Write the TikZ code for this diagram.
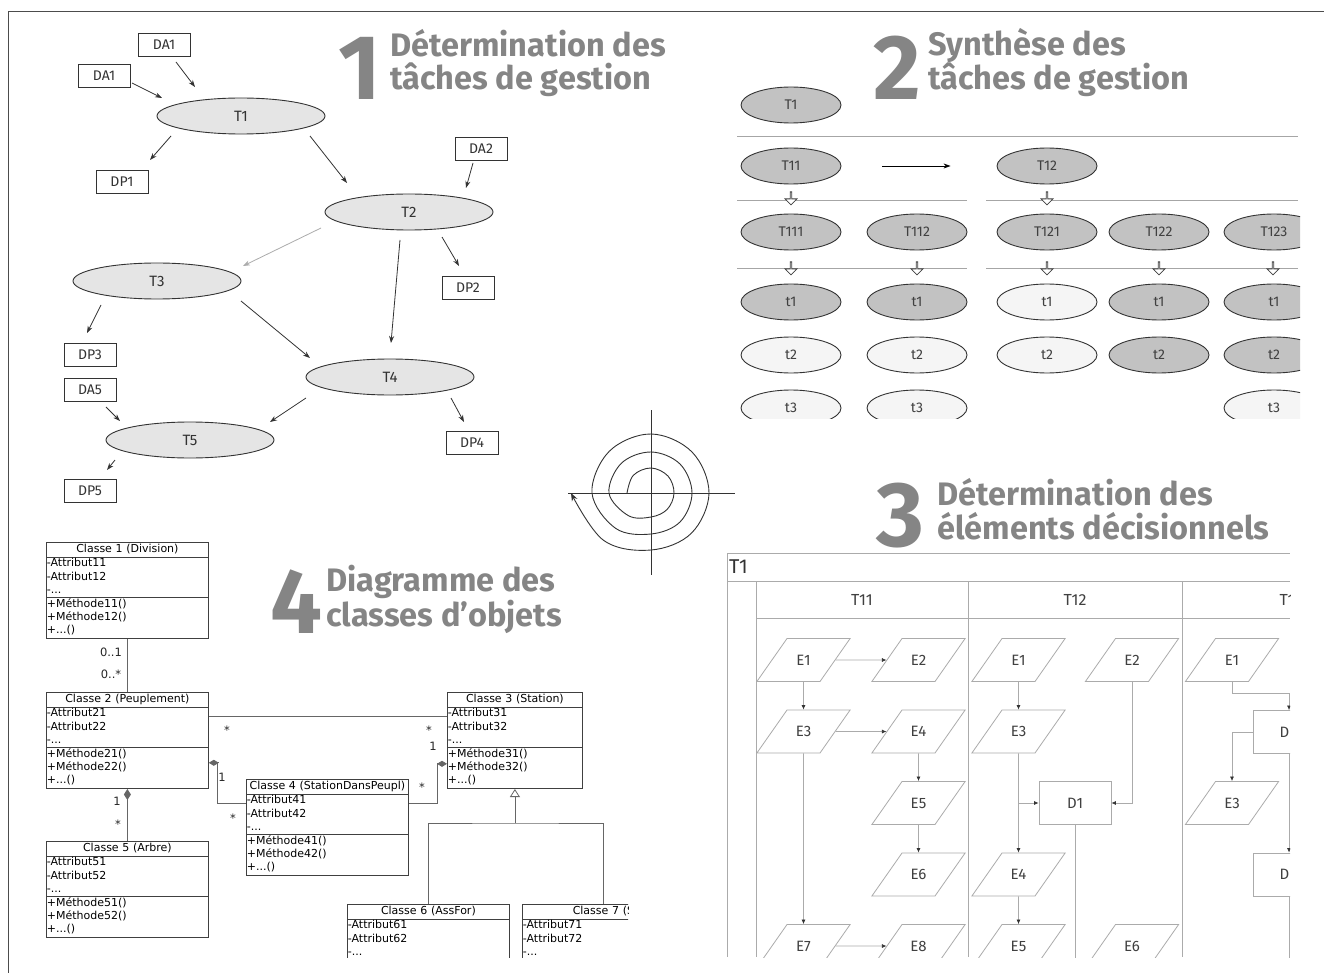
\documentclass[tikz,border=0pt]{standalone}
\usepackage{fontspec}
\setmainfont{Fira Sans}
\newfontfamily\umlfont{DejaVu Sans}
\usetikzlibrary{shapes.geometric,shapes.multipart,shapes.arrows,arrows.meta}
\setlength\parindent{0pt}
\definecolor{titlegray}{HTML}{858585}
\definecolor{lanegray}{HTML}{ABABAB}
\newcommand\ctitle[1]{\strut\hfill#1\hfill\null}

\begin{document}
\begin{tikzpicture}[x=1pt,y=-1pt]

  \tikzset{task/.style={draw=black!80, ellipse, fill=gray!20, line width=0.9pt, minimum width=168pt, minimum height=36pt, inner sep=0pt, text=black!80, font=\fontsize{15}{15}\selectfont},
    databox/.style={draw=black!80, line width=0.8pt, minimum width=52pt, minimum height=23pt, inner sep=0pt, text=black!80, font=\fontsize{14}{14}\selectfont},
    arr/.style={-{Stealth[length=7pt,width=5pt]}, draw=black!80, line width=0.8pt},
    subtask/.style={draw=black!80, ellipse, line width=0.9pt, minimum width=100pt, minimum height=36pt, inner sep=0pt, text=black!75, font=\fontsize{14}{14}\selectfont},
    subdark/.style={subtask, fill=gray!48},
    sublight/.style={subtask, fill=gray!8},
    hollow/.style={draw=black!75, line width=0.8pt, fill=white, single arrow, rotate=-90, minimum height=13pt, minimum width=12pt, single arrow head extend=3pt, inner sep=0pt},
    rule/.style={draw=gray!70, line width=0.8pt},
    bignum/.style={font=\fontsize{92}{92}\selectfont\bfseries, text=titlegray, inner sep=0pt, anchor=base west},
    headline/.style={font=\fontsize{32.5}{33.5}\selectfont\bfseries, text=titlegray, inner sep=0pt, anchor=base west, align=left},
    lane/.style={draw=lanegray, line width=0.8pt},
    flow/.style={draw=lanegray, line width=0.7pt, -{Latex[length=4.5pt,width=4pt,color=black!80]}},
    etape/.style={trapezium, trapezium left angle=55, trapezium right angle=125, draw=lanegray, line width=0.8pt, text width=33pt, align=center, inner xsep=0pt, text height=10.5pt, text depth=0pt, inner ysep=16.25pt, text=black!75, font=\fontsize{15}{15}\selectfont},
    decision/.style={draw=lanegray, line width=0.8pt, minimum width=72pt, minimum height=43pt, inner sep=0pt, text=black!75, font=\fontsize{15}{15}\selectfont},
    umlclass/.style={draw=black!75, line width=0.8pt, rectangle split, rectangle split parts=3, anchor=north west, inner xsep=0.5pt, inner ysep=0.35pt, text=black, font=\umlfont\fontsize{11}{13.1}\selectfont},
    umlline/.style={draw=black!60, line width=0.8pt},
    mult/.style={inner sep=0pt, text=black!85, font=\umlfont\fontsize{11.5}{11.5}\selectfont}}

  \useasboundingbox (0,0) rectangle (1324,973);
  \fill[white] (0,0) rectangle (1324,973);
  \draw[black!70, line width=1pt] (1324,12) -- (8,12) -- (8,973);

%% 1 Determination des taches
  \node[bignum] (n1) at (338,100) {1};
  \node[headline] (h1) at (390,90) {Détermination des\\tâches de gestion};

  \node[task] (t1) at (241,116) {T1};
  \node[task] (t2) at (409,212) {T2};
  \node[task] (t3) at (157,281) {T3};
  \node[task] (t4) at (390,377) {T4};
  \node[task] (t5) at (190,440) {T5};
  \node[databox] (da1a) at (164,45) {DA1};
  \node[databox] (da1b) at (104,76) {DA1};
  \node[databox] (dp1) at (122,182) {DP1};
  \node[databox] (da2) at (481,149) {DA2};
  \node[databox] (dp2) at (468,288) {DP2};
  \node[databox] (dp3) at (90,355) {DP3};
  \node[databox] (da5) at (90,390) {DA5};
  \node[databox] (dp4) at (472,443) {DP4};
  \node[databox] (dp5) at (90,491) {DP5};
%Flows
  \draw[arr] ([shift={(12,17)}]da1a.center) -- ([shift={(-46,-29)}]t1.center);
  \draw[arr] ([shift={(28,7)}]da1b.center) -- ([shift={(-79,-18)}]t1.center);
  \draw[arr] ([shift={(-70,20)}]t1.center) -- ([shift={(28,-22)}]dp1.center);
  \draw[arr] ([shift={(69,20)}]t1.center) -- ([shift={(-62,-29)}]t2.center);
  \draw[arr] ([shift={(-8,14)}]da2.center) -- ([shift={(57,-24)}]t2.center);
  \draw[arr, draw=gray!65] ([shift={(-88,16)}]t2.center) -- ([shift={(86,-15)}]t3.center);
  \draw[arr] ([shift={(-9,28)}]t2.center) -- ([shift={(1,-34)}]t4.center);
  \draw[arr] ([shift={(33,25)}]t2.center) -- ([shift={(-9,-22)}]dp2.center);
  \draw[arr] ([shift={(-56,24)}]t3.center) -- ([shift={(-3,-22)}]dp3.center);
  \draw[arr] ([shift={(84,20)}]t3.center) -- ([shift={(-80,-19)}]t4.center);
  \draw[arr] ([shift={(16,17)}]da5.center) -- ([shift={(-70,-19)}]t5.center);
  \draw[arr] ([shift={(-84,21)}]t4.center) -- ([shift={(80,-18)}]t5.center);
  \draw[arr] ([shift={(61,21)}]t4.center) -- ([shift={(-8,-21)}]dp4.center);
  \draw[arr] ([shift={(-75,20)}]t5.center) -- ([shift={(17,-21)}]dp5.center);

%% 2 Synthese des taches
  \node[bignum] (n2) at (873,100) {2};
  \node[headline] (h2) at (928,90) {Synthèse des\\tâches de gestion};

  \begin{scope}
    \clip (730,80) rectangle (1300,418);
    \draw[rule] (737,136) -- (1298,136);
    \draw[rule] (737,200) -- (967,200);
    \draw[rule] (986,200) -- (1298,200);
    \draw[rule] (737,268) -- (967,268);
    \draw[rule] (986,268) -- (1298,268);
    \node[subdark] (k1) at (791,105) {T1};
    \node[subdark] (k11) at (791,166) {T11};
    \node[subdark] (k12) at (1047,166) {T12};
    \node[subdark] (k111) at (791,232) {T111};
    \node[subdark] (k112) at (917,232) {T112};
    \node[subdark] (k121) at (1047,232) {T121};
    \node[subdark] (k122) at (1159,232) {T122};
    \node[subdark] (k123) at (1274,232) {T123};
    \node[subdark] (k111a) at (791,302) {t1};
    \node[subdark] (k112a) at (917,302) {t1};
    \node[sublight] (k121a) at (1047,302) {t1};
    \node[subdark] (k122a) at (1159,302) {t1};
    \node[subdark] (k123a) at (1274,302) {t1};
    \node[sublight] (k111b) at (791,355) {t2};
    \node[sublight] (k112b) at (917,355) {t2};
    \node[sublight] (k121b) at (1047,355) {t2};
    \node[subdark] (k122b) at (1159,355) {t2};
    \node[subdark] (k123b) at (1274,355) {t2};
    \node[sublight] (k111c) at (791,408) {t3};
    \node[sublight] (k112c) at (917,408) {t3};
    \node[sublight] (k123c) at (1274,408) {t3};
    \node[hollow] (v11) at (791,198) {};
    \node[hollow] (v12) at (1047,198) {};
    \node[hollow] (v111) at (791,268) {};
    \node[hollow] (v112) at (917,268) {};
    \node[hollow] (v121) at (1047,268) {};
    \node[hollow] (v122) at (1159,268) {};
    \node[hollow] (v123) at (1273,268) {};
    \draw[arr, draw=black] ([xshift=41pt]k11.east) -- ([xshift=-46pt]k12.west);
  \end{scope}

%% spiral
  \draw[black!80, line width=0.9pt] (568,493) -- (735,493);
  \draw[black!80, line width=0.9pt] (651,410) -- (651,575);
  \draw[black!80, line width=0.9pt, -{Stealth[length=8pt,width=6pt]}, shift={(651,493)}]
    plot[smooth, tension=0.6] coordinates {(180:24) (225:25) (270:25) (315:24) (360:23) (405:23) (450:24) (495:32)
      (540:42) (585:42) (630:41) (675:41) (720:41) (765:41) (810:41) (855:50)
      (900:59) (945:59) (990:59) (1035:58) (1080:58) (1125:57) (1170:57) (1215:67) (1260:80)};

%% 3 Elements decisionnels
  \node[bignum] (n3) at (876,546) {3};
  \node[headline] (h3) at (937,539) {Détermination des\\éléments décisionnels};

  \begin{scope}
    \clip (700,545) rectangle (1290,957);
    \coordinate (bot) at (1000,960);
    \draw[lane] (727,553) -- (1290,553);
    \draw[lane] (727,581) -- (1290,581);
    \draw[lane] (756,618) -- (1290,618);
    \draw[lane] (727,553) -- (727,957);
    \draw[lane] (756,581) -- (756,957);
    \draw[lane] (968,581) -- (968,957);
    \draw[lane] (1182,581) -- (1182,957);
    \node[anchor=west, inner sep=0pt, text=black!80, font=\fontsize{20}{20}\selectfont] (p1) at (729,567) {T1};
    \node[text=black!75, font=\fontsize{16}{16}\selectfont] (p11) at (862,600) {T11};
    \node[text=black!75, font=\fontsize{16}{16}\selectfont] (p12) at (1075,600) {T12};
    \node[text=black!75, font=\fontsize{16}{16}\selectfont] (p13) at (1287,600) {T1};
    % lane T11
    \node[etape] (a1) at (803.5,660) {E1};
    \node[etape] (a2) at (918.5,660) {E2};
    \node[etape] (a3) at (803.5,731.5) {E3};
    \node[etape] (a4) at (918.5,731.5) {E4};
    \node[etape] (a5) at (918.5,803) {E5};
    \node[etape] (a6) at (918.5,874.5) {E6};
    \node[etape] (a7) at (803.5,946) {E7};
    \node[etape] (a8) at (918.5,946) {E8};
    \draw[flow] (a1) -- (a2);
    \draw[flow] (a1) -- (a3);
    \draw[flow] (a3) -- (a4);
    \draw[flow] (a4) -- (a5);
    \draw[flow] (a5) -- (a6);
    \draw[flow] (a3) -- (a7);
    \draw[flow] (a7) -- (a8);
    % lane T12
    \node[etape] (b1) at (1018.5,660) {E1};
    \node[etape] (b2) at (1132,660) {E2};
    \node[etape] (b3) at (1018.5,731.5) {E3};
    \node[decision] (d1) at (1075,803) {D1};
    \node[etape] (b4) at (1018.5,874.5) {E4};
    \node[etape] (b5) at (1018.5,946) {E5};
    \node[etape] (b6) at (1132,946) {E6};
    \draw[flow] (b1) -- (b3);
    \draw[flow] (b3) -- (b4);
    \draw[flow] (b3 |- d1) -- (d1);
    \draw[flow] (b2) |- (d1);
    \draw[lane] (d1) -- (d1 |- bot);
    \draw[flow] (b4) -- (b5);
    % lane T13
    \node[etape] (c1) at (1232,660) {E1};
    \node[decision] (dx1) at (1289,732) {D\kern9pt};
    \node[etape] (c3) at (1232,803) {E3};
    \node[decision] (dx2) at (1289,874.5) {D\kern9pt};
    \draw[flow] (c1) -- ++(0,33) -| (dx1);
    \draw[flow] (dx1) -| (c3);
    \draw[flow] (dx1) -- (dx2);
    \draw[lane] (dx2) -- (dx2 |- bot);
  \end{scope}

%% 4 Diagramme des classes
  \node[bignum] (n4) at (270,633) {4};
  \node[headline] (h4) at (326,626) {Diagramme des\\classes d’objets};

  \begin{scope}
    \clip (20,535) rectangle (628,957);
    \node[umlclass, text width=161pt] (c1) at (46,542)
      {\ctitle{Classe 1 (Division)}
       \nodepart{two}\strut-Attribut11\\\strut-Attribut12\\\strut-...
       \nodepart{three}\strut+Méthode11()\\\strut+Méthode12()\\\strut+...()};
    \node[umlclass, text width=161pt] (c2) at (46,692)
      {\ctitle{Classe 2 (Peuplement)}
       \nodepart{two}\strut-Attribut21\\\strut-Attribut22\\\strut-...
       \nodepart{three}\strut+Méthode21()\\\strut+Méthode22()\\\strut+...()};
    \node[umlclass, text width=134pt] (c3) at (447,692)
      {\ctitle{Classe 3 (Station)}
       \nodepart{two}\strut-Attribut31\\\strut-Attribut32\\\strut-...
       \nodepart{three}\strut+Méthode31()\\\strut+Méthode32()\\\strut+...()};
    \node[umlclass, text width=161pt] (c4) at (246,779)
      {\ctitle{Classe 4 (StationDansPeupl)}
       \nodepart{two}\strut-Attribut41\\\strut-Attribut42\\\strut-...
       \nodepart{three}\strut+Méthode41()\\\strut+Méthode42()\\\strut+...()};
    \node[umlclass, text width=161pt] (c5) at (46,841)
      {\ctitle{Classe 5 (Arbre)}
       \nodepart{two}\strut-Attribut51\\\strut-Attribut52\\\strut-...
       \nodepart{three}\strut+Méthode51()\\\strut+Méthode52()\\\strut+...()};
    \node[umlclass, rectangle split parts=2, text width=161pt] (c6) at (347,904)
      {\ctitle{Classe 6 (AssFor)}
       \nodepart{two}\strut-Attribut61\\\strut-Attribut62\\\strut-...};
    \node[umlclass, rectangle split parts=2, text width=161pt] (c7) at (522,904)
      {\ctitle{Classe 7 (S}
       \nodepart{two}\strut-Attribut71\\\strut-Attribut72\\\strut-...};
%Associations
    \draw[umlline] (c1.south) -- (c2.north);
    \draw[umlline] ([yshift=-9pt]c2.text split east) -- ([yshift=-9pt]c3.text split west);
    \draw[umlline, {Diamond[length=10pt,width=6pt]}-] ([yshift=-15pt]c2.two split east) -- ++(9,0) |- ([yshift=-9pt]c4.text split west);
    \draw[umlline, -{Diamond[length=10pt,width=6pt]}] ([yshift=-9pt]c4.text split east) -| ([xshift=-10pt,yshift=-16pt]c3.two split west) -- ([yshift=-16pt]c3.two split west);
    \draw[umlline, {Diamond[length=11pt,width=7pt]}-] (c2.south) -- (c5.north);
    \coordinate (gen) at (c3.south |- 0,823);
    \draw[umlline] (c6.north) |- (gen) -| (c7.north);
    \draw[umlline, -{Triangle[open, length=8pt, width=10pt]}] (gen) -- (c3.south);
    \node[mult] (m1) at (111,652) {0..1};
    \node[mult] (m2) at (111,674) {0..*};
    \node[mult] (m3) at (227,730) {*};
    \node[mult] (m4) at (429,730) {*};
    \node[mult] (m5) at (433,746) {1};
    \node[mult] (m6) at (222,777) {1};
    \node[mult] (m7) at (233,818) {*};
    \node[mult] (m8) at (422,787) {*};
    \node[mult] (m9) at (117,801) {1};
    \node[mult] (m10) at (118,824) {*};
  \end{scope}

\end{tikzpicture}
\end{document}
